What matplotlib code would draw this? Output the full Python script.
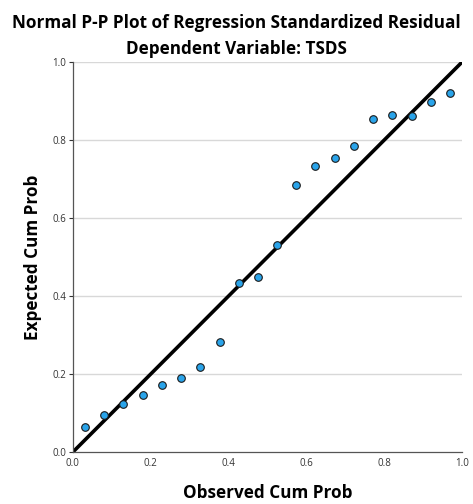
import matplotlib.pyplot as plt

# Данные P-P графика
observed = [0.031, 0.080, 0.130, 0.179, 0.228, 0.278, 0.327, 0.377, 0.426, 0.475,
            0.525, 0.574, 0.623, 0.673, 0.722, 0.772, 0.821, 0.870, 0.920, 0.969]
expected = [0.064, 0.094, 0.124, 0.146, 0.173, 0.191, 0.219, 0.283, 0.434, 0.449,
            0.530, 0.684, 0.733, 0.754, 0.784, 0.855, 0.863, 0.862, 0.897, 0.921]
ticks = [0.0, 0.2, 0.4, 0.6, 0.8, 1.0]
tick_labels = ['0.0', '0.2', '0.4', '0.6', '0.8', '1.0']

plt.rcParams['font.family'] = ['Open Sans', 'DejaVu Sans']

fig = plt.figure(figsize=(4.73, 5.04), dpi=100)
ax = fig.add_axes([0.154, 0.103, 0.823, 0.774])

# Сетка
for t in ticks[1:]:
    ax.axhline(t, color='#d8d8d8', linewidth=1.0, zorder=0)

# Диагональ
ax.plot([0, 1], [0, 1], color='black', linewidth=2.6, zorder=2)

# Точки
ax.scatter(observed, expected, s=30, color='#2aa4ea', edgecolors='#1a1a1a',
           linewidths=0.8, zorder=3)

ax.set_xlim(0, 1)
ax.set_ylim(0, 1)
ax.set_xticks(ticks)
ax.set_xticklabels(tick_labels)
ax.set_yticks(ticks)
ax.set_yticklabels(tick_labels)
ax.tick_params(axis='x', length=0, pad=4, labelsize=7, colors='#333333')
ax.tick_params(axis='y', length=3, width=0.8, pad=2, labelsize=7, colors='#333333')

for side in ['top', 'right']:
    ax.spines[side].set_visible(False)
for side in ['left', 'bottom']:
    ax.spines[side].set_color('#555555')
    ax.spines[side].set_linewidth(0.9)

# Названия и подписи
fig.text(0.5, 0.954, 'Normal P-P Plot of Regression Standardized Residual',
         ha='center', va='center', fontsize=12.3, fontweight='bold')
fig.text(0.5, 0.902, 'Dependent Variable: TSDS',
         ha='center', va='center', fontsize=12.3, fontweight='bold')
ax.set_xlabel('Observed Cum Prob', fontsize=12.3, fontweight='bold', labelpad=11)
ax.set_ylabel('Expected Cum Prob', fontsize=12.3, fontweight='bold', labelpad=7)

fig.savefig('out.png', dpi=100)
